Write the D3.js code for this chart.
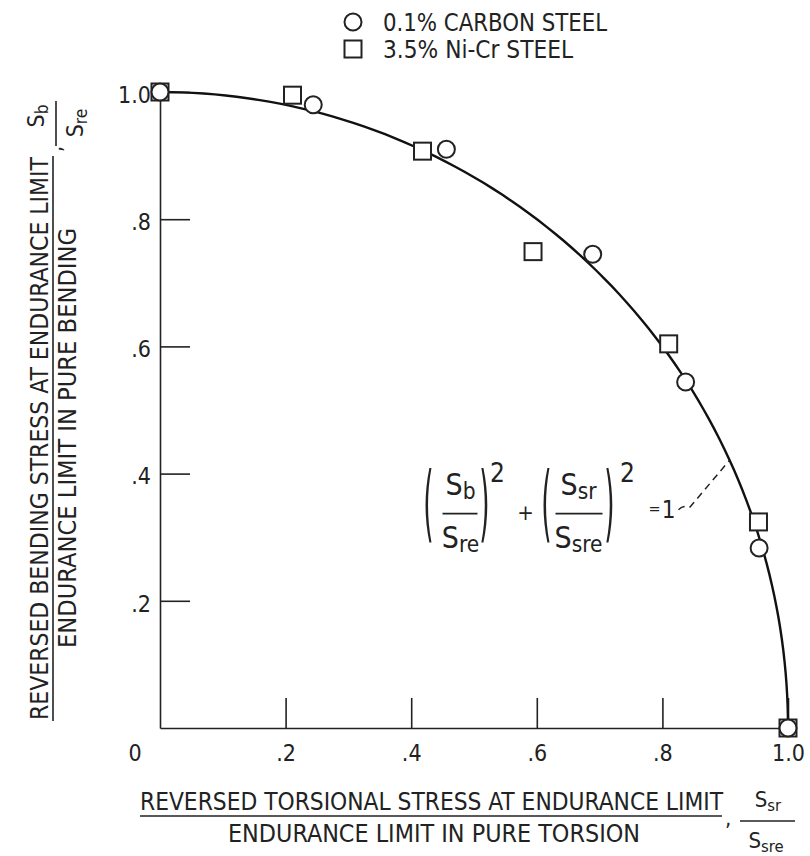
<!DOCTYPE html>
<html>
<head>
<meta charset="utf-8">
<script src="https://cdn.jsdelivr.net/npm/d3@7"></script>
<style>
  body { margin: 0; background: #fff; }
  svg { display: block; background: #fff; }
  text {
    font-family: "Liberation Sans Narrow", "DejaVu Sans Condensed", "Roboto Condensed", "Liberation Sans", sans-serif;
    fill: #222;
  }
</style>
</head>
<body>
<svg id="chart" width="810" height="856"></svg>
<script>
const carbonX = [0, 0.244, 0.456, 0.689, 0.837, 0.954, 1.0];
const carbonY = [1.0, 0.98, 0.91, 0.745, 0.544, 0.283, 0];
const nicrX = [0, 0.211, 0.418, 0.594, 0.81, 0.953, 1.0];
const nicrY = [1.0, 0.995, 0.907, 0.749, 0.604, 0.324, 0];

const xTicks = [0.2, 0.4, 0.6, 0.8, 1.0];
const xTickLabels = [".2", ".4", ".6", ".8", "1.0"];
const yTicks = [0.2, 0.4, 0.6, 0.8, 1.0];
const yTickLabels = [".2", ".4", ".6", ".8", "1.0"];

const legendLabels = ["0.1% CARBON STEEL", "3.5% Ni-Cr STEEL"];

const INK = "#222";

var svg = d3.select("#chart");

var x = d3.scaleLinear().domain([0, 1]).range([160, 788]);
var y = d3.scaleLinear().domain([0, 1]).range([728, 92]);

// axes, ticks point into the plot
var xAxis = svg
  .append("g")
  .attr("transform", "translate(0," + y(0) + ")")
  .call(
    d3.axisBottom(x)
      .tickValues(xTicks)
      .tickFormat(function(d, i) { return xTickLabels[i]; })
      .tickSizeInner(-30)
      .tickSizeOuter(0)
      .tickPadding(17)
  )
  .attr("font-size", 23)
  .attr("color", INK);

var yAxis = svg
  .append("g")
  .attr("transform", "translate(" + x(0) + ",0)")
  .call(
    d3.axisLeft(y)
      .tickValues(yTicks)
      .tickFormat(function(d, i) { return yTickLabels[i]; })
      .tickSizeInner(-30)
      .tickSizeOuter(0)
      .tickPadding(9)
  )
  .attr("font-size", 23)
  .attr("color", INK);

yAxis.selectAll("text").attr("dy", "0.45em");
svg.selectAll(".domain, .tick line").attr("stroke-width", 1.6);

// corner zero
svg.append("text")
  .attr("x", x(0) - 25)
  .attr("y", y(0) + 33)
  .attr("text-anchor", "middle")
  .attr("font-size", 23)
  .text("0");

// theoretical curve (Sb/Sre)^2 + (Ssr/Ssre)^2 = 1
var theory = d3.range(0, 91).map(function(deg) {
  var a = deg * Math.PI / 180;
  return [Math.sin(a), Math.cos(a)];
});

svg.append("path")
  .datum(theory)
  .attr("fill", "none")
  .attr("stroke", "#111")
  .attr("stroke-width", 2.4)
  .attr("d", d3.line()
    .x(function(d) { return x(d[0]); })
    .y(function(d) { return y(d[1]); }));

// markers
var SQ = 17, R = 8.5;

svg.append("g")
  .selectAll("rect")
  .data(nicrX)
  .enter()
  .append("rect")
  .attr("x", function(d) { return x(d) - SQ / 2; })
  .attr("y", function(d, i) { return y(nicrY[i]) - SQ / 2; })
  .attr("width", SQ)
  .attr("height", SQ)
  .attr("fill", "#fff")
  .attr("stroke", INK)
  .attr("stroke-width", 2);

svg.append("g")
  .selectAll("circle")
  .data(carbonX)
  .enter()
  .append("circle")
  .attr("cx", function(d) { return x(d); })
  .attr("cy", function(d, i) { return y(carbonY[i]); })
  .attr("r", R)
  .attr("fill", "#fff")
  .attr("stroke", INK)
  .attr("stroke-width", 2);

// legend
var legend = svg.append("g");
legend.append("circle")
  .attr("cx", 353).attr("cy", 22).attr("r", R)
  .attr("fill", "#fff").attr("stroke", INK).attr("stroke-width", 2);
legend.append("rect")
  .attr("x", 353 - SQ / 2).attr("y", 49 - SQ / 2)
  .attr("width", SQ).attr("height", SQ)
  .attr("fill", "#fff").attr("stroke", INK).attr("stroke-width", 2);
legend.selectAll("text")
  .data(legendLabels)
  .enter()
  .append("text")
  .attr("x", 383)
  .attr("y", function(d, i) { return 31 + i * 27; })
  .attr("font-size", 24)
  .attr("textLength", function(d, i) { return i == 0 ? 224 : 190; })
  .attr("lengthAdjust", "spacingAndGlyphs")
  .text(function(d) { return d; });

// helper: S with subscript
function sText(el, px, py, sub, size) {
  var t = el.append("text")
    .attr("x", px)
    .attr("y", py)
    .attr("text-anchor", "middle")
    .attr("font-size", size);
  t.append("tspan").text("S");
  t.append("tspan").attr("dy", 4).attr("font-size", size * 0.75).text(sub);
  return t;
}

// x axis title
var xt = svg.append("g");
xt.append("text")
  .attr("x", 140).attr("y", 810)
  .attr("font-size", 24)
  .attr("textLength", 583)
  .attr("lengthAdjust", "spacingAndGlyphs")
  .text("REVERSED TORSIONAL STRESS AT ENDURANCE LIMIT");
xt.append("line")
  .attr("x1", 140).attr("x2", 722).attr("y1", 816).attr("y2", 816)
  .attr("stroke", INK).attr("stroke-width", 1.6);
xt.append("text")
  .attr("x", 228).attr("y", 842)
  .attr("font-size", 24)
  .attr("textLength", 412)
  .attr("lengthAdjust", "spacingAndGlyphs")
  .text("ENDURANCE LIMIT IN PURE TORSION");
xt.append("text").attr("x", 725).attr("y", 826).attr("font-size", 22).text(",");
xt.append("line")
  .attr("x1", 740).attr("x2", 795).attr("y1", 821).attr("y2", 821)
  .attr("stroke", INK).attr("stroke-width", 1.6);
sText(xt, 768, 807, "sr", 22);
sText(xt, 766, 848, "sre", 22);

// y axis title (rotated)
var yt = svg.append("g");
yt.append("text")
  .attr("transform", "translate(48,720) rotate(-90)")
  .attr("font-size", 24)
  .attr("textLength", 563)
  .attr("lengthAdjust", "spacingAndGlyphs")
  .text("REVERSED BENDING STRESS AT ENDURANCE LIMIT");
yt.append("line")
  .attr("x1", 53).attr("x2", 53).attr("y1", 721).attr("y2", 156)
  .attr("stroke", INK).attr("stroke-width", 1.6);
yt.append("text")
  .attr("transform", "translate(76,438) rotate(-90)")
  .attr("text-anchor", "middle")
  .attr("font-size", 24)
  .attr("textLength", 420)
  .attr("lengthAdjust", "spacingAndGlyphs")
  .text("ENDURANCE LIMIT IN PURE BENDING");
yt.append("text")
  .attr("transform", "translate(62,152) rotate(-90)")
  .attr("font-size", 22)
  .text(",");
yt.append("line")
  .attr("x1", 56).attr("x2", 56).attr("y1", 146).attr("y2", 101)
  .attr("stroke", INK).attr("stroke-width", 1.6);
sText(yt.append("g").attr("transform", "translate(44,116) rotate(-90)"), 0, 0, "b", 23);
sText(yt.append("g").attr("transform", "translate(83,123) rotate(-90)"), 0, 0, "re", 23);

// equation label
var ex = x(0.418), ey = y(0.337);
var eq = svg.append("g").attr("transform", "translate(" + ex + "," + ey + ")");

function paren(px, ch) {
  eq.append("text")
    .attr("transform", "translate(" + px + ",18) scale(0.35,1)")
    .attr("text-anchor", "middle")
    .attr("font-size", 84)
    .text(ch);
}
function bar(x1, x2) {
  eq.append("line")
    .attr("x1", x1).attr("x2", x2).attr("y1", 0).attr("y2", 0)
    .attr("stroke", INK).attr("stroke-width", 1.6);
}

paren(6, "(");
bar(20, 55);
sText(eq, 38, -19, "b", 30);
sText(eq, 38, 34, "re", 30);
paren(62, ")");
eq.append("text").attr("x", 75).attr("y", -32).attr("text-anchor", "middle").attr("font-size", 26).text("2");
eq.append("text").attr("x", 103).attr("y", 6).attr("text-anchor", "middle").attr("font-size", 22).text("+");
paren(124, "(");
bar(133, 180);
sText(eq, 156, -19, "sr", 30);
sText(eq, 156, 34, "sre", 30);
paren(187, ")");
eq.append("text").attr("x", 205).attr("y", -32).attr("text-anchor", "middle").attr("font-size", 26).text("2");
eq.append("text").attr("x", 232).attr("y", 0).attr("text-anchor", "middle").attr("font-size", 16).text("=");
eq.append("text").attr("x", 246).attr("y", 4).attr("text-anchor", "middle").attr("font-size", 24).text("1");

// dashed leader from "= 1" to the curve
var lx = 0.907, ly = Math.sqrt(1 - lx * lx);
svg.append("path")
  .attr("fill", "none")
  .attr("stroke", INK)
  .attr("stroke-width", 1.5)
  .attr("stroke-dasharray", "7,5")
  .attr("d", "M" + (ex + 256) + "," + (ey - 4) +
    " Q" + (ex + 261) + "," + (ey - 9) + " " + (ex + 267) + "," + (ey - 6) +
    " L" + x(lx) + "," + y(ly));
</script>
</body>
</html>
